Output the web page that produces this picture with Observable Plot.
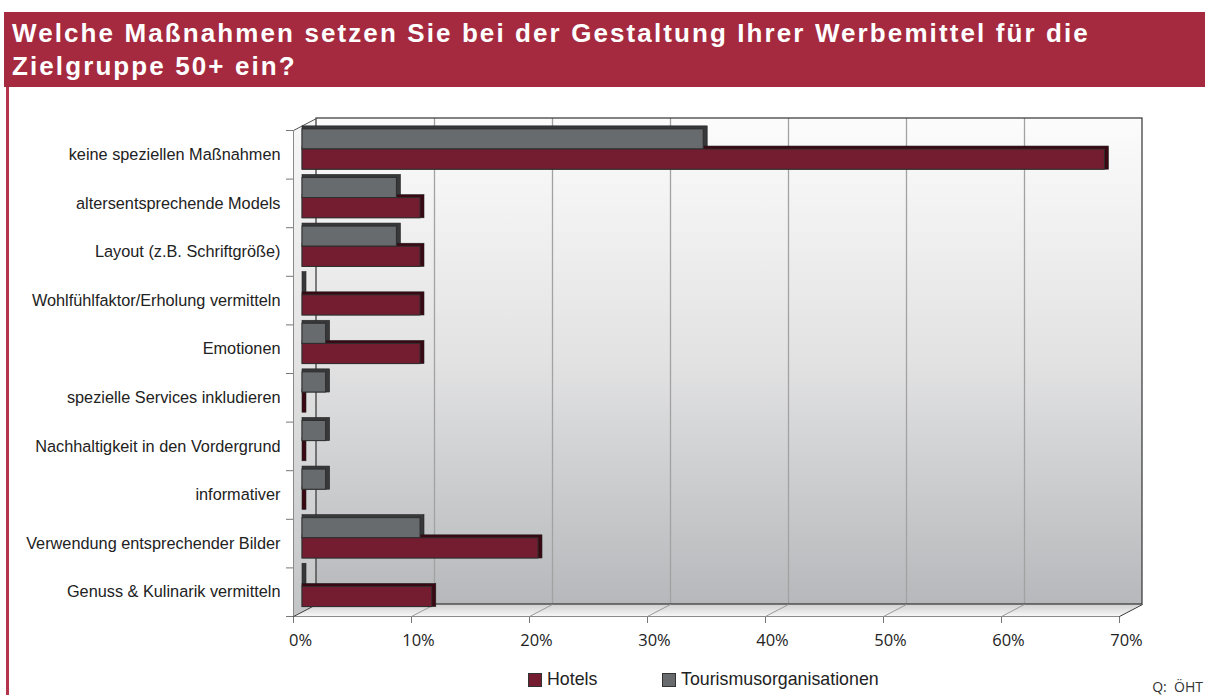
<!DOCTYPE html>
<html>
<head>
<meta charset="utf-8">
<script src="https://cdn.jsdelivr.net/npm/d3@7"></script>
<script src="https://cdn.jsdelivr.net/npm/@observablehq/plot@0.6"></script>
<style>
  html, body { margin: 0; padding: 0; background: #fff; }
  body { width: 1205px; height: 695px; position: relative; overflow: hidden; }
  #title { position: absolute; left: 4px; top: 12px; width: 1201px; height: 75px; background: #a52a3f;
    color: #fff; font-family: "Liberation Sans", Arial, sans-serif; font-weight: bold; font-size: 26px;
    line-height: 33px; letter-spacing: 2.1px; padding: 5px 0 0 8px; box-sizing: border-box; white-space: nowrap; }
  #leftline { position: absolute; left: 6px; top: 87px; width: 2.5px; height: 608px; background: #b3344b; }
  #chart { position: absolute; left: 0; top: 87px; }
  .leg { position: absolute; top: 671px; font-family: "Liberation Sans", Arial, sans-serif; font-size: 17.8px; line-height: 1; color: #222; }
  .sw { position: absolute; top: 673px; width: 12px; height: 12px; border: 1px solid #333; }
  #src { position: absolute; right: 2px; top: 677px; font-family: "Open Sans", sans-serif; font-size: 14px; color: #333; white-space: pre; }
</style>
</head>
<body>
<div id="title">Welche Maßnahmen setzen Sie bei der Gestaltung Ihrer Werbemittel für die<br>Zielgruppe 50+ ein?</div>
<div id="leftline"></div>
<div id="chart"></div>
<div class="sw" style="left:528px;background:#741d30"></div>
<div class="leg" style="left:547px">Hotels</div>
<div class="sw" style="left:662px;background:#686b6e"></div>
<div class="leg" style="left:681px">Tourismusorganisationen</div>
<div id="src">Q:  ÖHT</div>
<script>
const categories = [
  "keine speziellen Maßnahmen",
  "altersentsprechende Models",
  "Layout (z.B. Schriftgröße)",
  "Wohlfühlfaktor/Erholung vermitteln",
  "Emotionen",
  "spezielle Services inkludieren",
  "Nachhaltigkeit in den Vordergrund",
  "informativer",
  "Verwendung entsprechender Bilder",
  "Genuss & Kulinarik vermitteln"
];
const hotels  = [68, 10, 10, 10, 10, 0, 0, 0, 20, 11];
const tourism = [34, 8, 8, 0, 2, 2, 2, 2, 10, 0];
const seriesNames = ["Tourismusorganisationen", "Hotels"];
const xTicks = [0, 10, 20, 30, 40, 50, 60, 70];

const W = 1205, H = 570, ML = 293, MR = 86, MT = 43, MB = 41;
const XMAX = xTicks[xTicks.length - 1];
const N = categories.length;
const pxX = (W - ML - MR) / XMAX;
const pxY = (H - MT - MB) / N;
const DPX = 23, DPY = 12;           // 3D depth in pixels
const DX = DPX / pxX, DY = DPY / pxY; // depth in data units

const colors = { "Hotels": "#741d30", "Tourismusorganisationen": "#686b6e" };
const sideColors = { "Hotels": "#3a0812", "Tourismusorganisationen": "#36383a" };

const rows = [];
categories.forEach((c, i) => {
  rows.push({ cat: c, i, series: seriesNames[0], slot: 0, value: tourism[i] });
  rows.push({ cat: c, i, series: seriesNames[1], slot: 1, value: hotels[i] });
});
const barTop = d => d.i + 0.10 + d.slot * 0.415;
const barBot = d => d.i + 0.10 + (d.slot + 1) * 0.415;

const innerTicks = xTicks.slice(1, -1);

const plot = Plot.plot({
  width: W, height: H,
  marginLeft: ML, marginRight: MR, marginTop: MT, marginBottom: MB,
  style: { background: "transparent", overflow: "visible", color: "#777" },
  x: { domain: [0, XMAX], ticks: xTicks, tickFormat: () => "", tickSize: 7 },
  y: { type: "linear", domain: [0, N], reverse: true, ticks: d3.range(N + 1), tickFormat: () => "", tickSize: 7 },
  marks: [
    // floor
    Plot.areaX([{ y: N, x1: 0, x2: XMAX }, { y: N - DY, x1: DX, x2: XMAX + DX }],
      { y: "y", x1: "x1", x2: "x2", fill: "url(#floorGrad)" }),
    // left wall
    Plot.areaY([{ x: 0, y1: 0, y2: N }, { x: DX, y1: -DY, y2: N - DY }],
      { x: "x", y1: "y1", y2: "y2", fill: "url(#sideGrad)" }),
    // back wall
    Plot.rect([0], { x1: 0, x2: XMAX, y1: 0, y2: N, dx: DPX, dy: -DPY, fill: "url(#wallGrad)" }),
    Plot.ruleX(innerTicks, { x: d => d, y1: 0, y2: N, dx: DPX, dy: -DPY, stroke: "#a2a2a2", strokeWidth: 1.3 }),
    Plot.rect([0], { x1: 0, x2: XMAX, y1: 0, y2: N, dx: DPX, dy: -DPY, fill: "none", stroke: "#333", strokeWidth: 1.2 }),
    // floor grid
    Plot.link(innerTicks, { x1: d => d, y1: N, x2: d => d + DX, y2: N - DY, stroke: "#9a9a9a" }),
    Plot.ruleY([N], { x1: 0, x2: XMAX, stroke: "#8a8a8a" }),
    Plot.link([0, XMAX], { x1: d => d, y1: N, x2: d => d + DX, y2: N - DY, stroke: "#333" }),
    Plot.link([0], { x1: 0, y1: 0, x2: DX, y2: -DY, stroke: "#555" }),
    Plot.ruleX([0], { y1: 0, y2: N, stroke: "#8a8a8a" }),
    // bars: depth (side/top) then face
    Plot.rect(rows, { x1: 0, x2: "value", y1: barTop, y2: barBot, dx: 9, dy: -6,
      insetRight: -4, insetTop: -3, fill: d => sideColors[d.series], stroke: "#222", strokeWidth: 0.6 }),
    Plot.rect(rows, { x1: 0, x2: "value", y1: barTop, y2: barBot, dx: 9, dy: -6,
      fill: d => colors[d.series], stroke: "#2e2e2e", strokeWidth: 1 }),
    // labels
    Plot.text(categories, { x: 0, y: (d, i) => i + 0.5, text: d => d, textAnchor: "end", dx: -13,
      fontSize: 16.3, fontFamily: "Liberation Sans, Arial, sans-serif", fill: "#222" }),
    Plot.text(xTicks, { x: d => d, y: N, text: d => d + "%", dx: 7, dy: 24,
      fontSize: 16.5, fontFamily: "Open Sans, sans-serif", fill: "#222" })
  ]
});

const svg = d3.select(plot);
const defs = svg.insert("defs", ":first-child");
function grad(id, stops) {
  const g = defs.append("linearGradient").attr("id", id).attr("x1", 0).attr("y1", 0).attr("x2", 0).attr("y2", 1);
  stops.forEach(([o, c]) => g.append("stop").attr("offset", o).attr("stop-color", c));
}
grad("wallGrad", [[0, "#fcfcfc"], [0.5, "#e2e2e3"], [1, "#b6b8bb"]]);
grad("sideGrad", [[0, "#f7f7f7"], [0.5, "#e2e2e2"], [1, "#c2c4c6"]]);
grad("floorGrad", [[0, "#cfcfd0"], [1, "#f6f6f6"]]);

document.getElementById("chart").appendChild(plot);
</script>
</body>
</html>
